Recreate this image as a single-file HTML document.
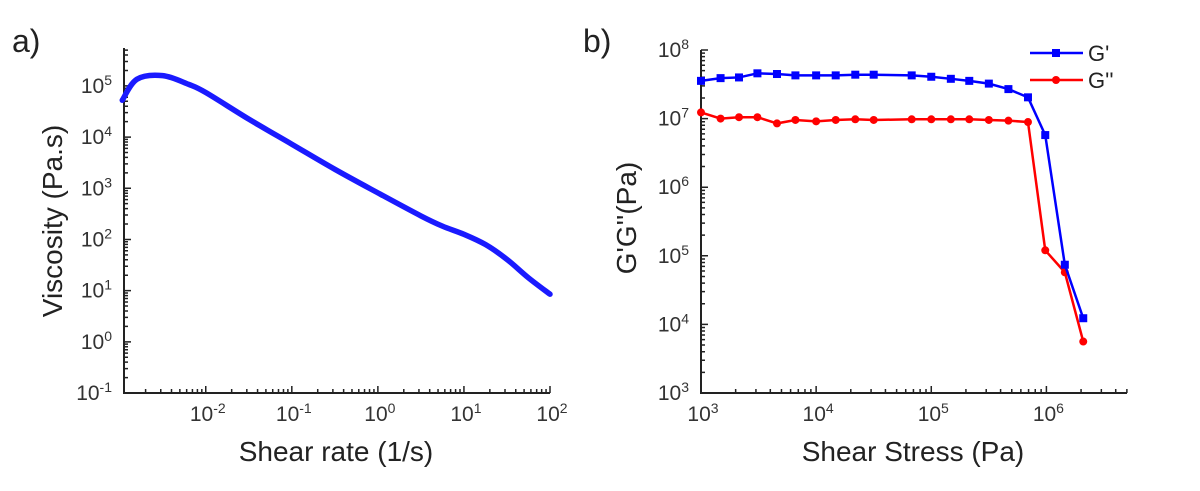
<!DOCTYPE html>
<html><head><meta charset="utf-8"><style>
html,body{margin:0;padding:0;background:#fff;}
svg{display:block;font-family:"Liberation Sans",Arial,sans-serif;}
</style></head><body>
<svg id="s" width="1200" height="491" viewBox="0 0 1200 491">
<text x="12" y="52" font-size="32" fill="#222">a)</text>
<text x="583" y="52" font-size="32" fill="#222">b)</text>
<g id="pa"></g>
<g id="pb"></g>
<text x="336" y="461" font-size="28" fill="#222" text-anchor="middle">Shear rate (1/s)</text>
<text transform="translate(62,221) rotate(-90)" font-size="28" fill="#222" text-anchor="middle">Viscosity (Pa.s)</text>
<text x="913" y="461" font-size="28" fill="#222" text-anchor="middle">Shear Stress (Pa)</text>
<text transform="translate(636,218) rotate(-90)" font-size="28" fill="#222" text-anchor="middle">G'G''(Pa)</text>
<g>
<line x1="1030" y1="53" x2="1083" y2="53" stroke="#0000ff" stroke-width="2.5"/>
<rect x="1052" y="49" width="8" height="8" fill="#0000ff"/>
<text x="1088" y="61" font-size="22" fill="#222">G'</text>
<line x1="1030" y1="80" x2="1083" y2="80" stroke="#ff0000" stroke-width="2.5"/>
<circle cx="1056" cy="80" r="4" fill="#ff0000"/>
<text x="1088" y="88" font-size="22" fill="#222">G''</text>
</g>
</svg>
<script>
// Panel a data (log10 values)
const aShearLog = [-2.97,-2.8,-2.5,-2.2,-2.0,-1.5,-1.0,-0.5,0.0,0.5,0.75,1.0,1.25,1.5,1.75,2.0];
const aViscLog  = [4.72,5.13,5.2,5.03,4.87,4.35,3.86,3.37,2.91,2.46,2.26,2.10,1.90,1.61,1.25,0.93];
const aXTicks = [-2,-1,0,1,2];
const aYTicks = [-1,0,1,2,3,4,5];
// Panel b data (log10 values)
const bStressLog = [3.0,3.17,3.33,3.49,3.66,3.82,4.0,4.17,4.34,4.5,4.83,5.0,5.17,5.33,5.5,5.67,5.84,5.99,6.16,6.32];
const bGpLog  = [7.55,7.59,7.60,7.66,7.65,7.63,7.63,7.63,7.64,7.64,7.63,7.61,7.58,7.55,7.51,7.43,7.31,6.76,4.87,4.09];
const bGppLog = [7.09,7.0,7.02,7.02,6.93,6.98,6.96,6.98,6.99,6.98,6.99,6.99,6.99,6.99,6.98,6.97,6.95,5.08,4.76,3.75];
const bXTicks = [3,4,5,6];
const bYTicks = [3,4,5,6,7,8];

const NS="http://www.w3.org/2000/svg";
function mk(p,t,at){const e=document.createElementNS(NS,t);for(const k in at)e.setAttribute(k,at[k]);p.appendChild(e);return e;}
function pow(p,x,y,exp,anchor,name){
  const t=mk(p,'text',{x:x,y:y,'font-size':21,fill:'#333','text-anchor':anchor});
  
  
  const a=document.createElementNS(NS,'tspan');a.textContent='10';t.appendChild(a);
  const b=document.createElementNS(NS,'tspan');b.setAttribute('dy','-8');b.setAttribute('font-size','14');b.textContent=String(exp);t.appendChild(b);
}
function panel(g,ax,xs,ys,xTicks,yTicks,xMin,xMax,yMin,yMax){
  const X=v=>ax.l+(v-xMin)/(xMax-xMin)*(ax.r-ax.l);
  const Y=v=>ax.b-(v-yMin)/(yMax-yMin)*(ax.b-ax.t);
  const axes=mk(g,'path',{d:`M${ax.l},${ax.t}V${ax.b}H${ax.r}`,fill:'none',stroke:'#222','stroke-width':2});
  
  
  let d='';
  for(let k=Math.floor(xMin);k<=Math.ceil(xMax);k++)for(let m=1;m<10;m++){const v=k+Math.log10(m);if(v<xMin-1e-6||v>xMax+1e-6)continue;const x=X(v);d+=`M${x},${ax.b}v${m==1?-7:-4}`;}
  for(let k=Math.floor(yMin);k<=Math.ceil(yMax);k++)for(let m=1;m<10;m++){const v=k+Math.log10(m);if(v<yMin-1e-6||v>yMax+1e-6)continue;const y=Y(v);d+=`M${ax.l},${y}h${m==1?7:4}`;}
  const tk=mk(g,'path',{d:d,stroke:'#222','stroke-width':1.5,fill:'none'});
  
  
  xTicks.forEach(v=>pow(g,X(v)+2,ax.b+28,v,'middle','x-tick-label'));
  yTicks.forEach(v=>pow(g,ax.l-12,Y(v)+7,v,'end','y-tick-label'));
  return {X,Y};
}
const pa=document.getElementById('pa');
const A=panel(pa,{l:124,r:550,t:48,b:393},aShearLog,aViscLog,aXTicks,aYTicks,-2.95,2,-1,5.74);
(function(){
  const P=aShearLog.map((v,i)=>[A.X(v),A.Y(aViscLog[i])]);
  let d=`M${P[0][0]},${P[0][1]}`;
  for(let i=0;i<P.length-1;i++){const p0=P[Math.max(0,i-1)],p1=P[i],p2=P[i+1],p3=P[Math.min(P.length-1,i+2)];
    d+=`C${p1[0]+(p2[0]-p0[0])/6},${p1[1]+(p2[1]-p0[1])/6} ${p2[0]-(p3[0]-p1[0])/6},${p2[1]-(p3[1]-p1[1])/6} ${p2[0]},${p2[1]}`;}
  const c=mk(pa,'path',{d:d,fill:'none',stroke:'#1a1aff','stroke-width':5.5,'stroke-linecap':'round'});
  
  
})();
const pb=document.getElementById('pb');
const B=panel(pb,{l:701,r:1127,t:50,b:393},bStressLog,bGpLog,bXTicks,bYTicks,3,6.7,3,8);
function series(vals,color,shape,name){
  const pts=bStressLog.map((v,i)=>B.X(v)+','+B.Y(vals[i])).join(' ');
  const l=mk(pb,'polyline',{points:pts,fill:'none',stroke:color,'stroke-width':2.5});
  
  
  bStressLog.forEach((v,i)=>{
    const x=B.X(v),y=B.Y(vals[i]);
    const m=shape==='sq'?mk(pb,'rect',{x:x-4,y:y-4,width:8,height:8,fill:color}):mk(pb,'circle',{cx:x,cy:y,r:4,fill:color});
    
    
  });
}
series(bGppLog,'#ff0000','c','g-double-prime');
series(bGpLog,'#0000ff','sq','g-prime');
</script>
</body></html>
